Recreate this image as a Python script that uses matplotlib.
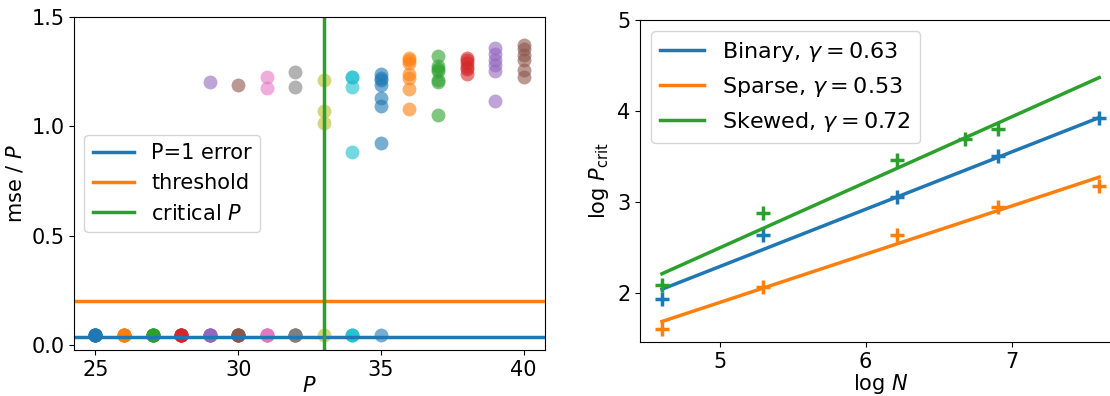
import numpy as np
import matplotlib
matplotlib.use('Agg')
import matplotlib.pyplot as plt

plt.rcParams['font.size'] = 15

# left panel: mse / P for each trial at each P
P_values = [25, 26, 27, 28, 29, 30, 31, 32, 33, 34, 35, 36, 37, 38, 39, 40]
mse_trials = [
    [0.047] * 8,
    [0.047] * 8,
    [0.047] * 8,
    [0.047] * 8,
    [1.20] + [0.047] * 7,
    [1.19] + [0.047] * 7,
    [1.226, 1.173] + [0.047] * 6,
    [1.245, 1.18] + [0.047] * 6,
    [1.21, 1.07, 1.013, 0.047],
    [1.226, 1.226, 1.178, 0.883] + [0.047] * 3,
    [1.24, 1.22, 1.21, 1.19, 1.127, 1.092, 0.925, 0.047],
    [1.31, 1.30, 1.29, 1.24, 1.22, 1.17, 1.077],
    [1.32, 1.275, 1.26, 1.25, 1.21, 1.20, 1.05],
    [1.31, 1.30, 1.29, 1.27, 1.26, 1.24],
    [1.356, 1.33, 1.30, 1.28, 1.25, 1.115],
    [1.37, 1.35, 1.325, 1.30, 1.257, 1.226],
]
p1_error = 0.035
threshold = 0.2
critical_P = 33

# right panel: log P_crit vs log N
N_binary = [100, 200, 500, 1000, 2000]
logPc_binary = [1.93, 2.64, 3.05, 3.50, 3.92]
N_sparse = [100, 200, 500, 1000, 2000]
logPc_sparse = [1.60, 2.07, 2.64, 2.94, 3.18]
N_skewed = [100, 200, 500, 800, 1000]
logPc_skewed = [2.09, 2.88, 3.46, 3.69, 3.80]
gammas = [0.63, 0.53, 0.72]
fit_at_start = [2.04, 1.685, 2.21]
names = ['Binary', 'Sparse', 'Skewed']

fig = plt.figure(figsize=(11.1, 3.96), dpi=100)
ax1 = fig.add_axes([0.0667, 0.1162, 0.4243, 0.8417])
ax2 = fig.add_axes([0.5766, 0.1364, 0.4333, 0.8131])

for i, (p, trials) in enumerate(zip(P_values, mse_trials)):
    ax1.scatter([p] * len(trials), trials, s=100, alpha=0.6,
                color='C%d' % (i % 10), linewidths=0)
ax1.axhline(p1_error, color='C0', lw=2.5, label='P=1 error')
ax1.axhline(threshold, color='C1', lw=2.5, label='threshold')
ax1.axvline(critical_P, color='C2', lw=2.5, label='critical $P$')
ax1.set_xlim(24.25, 40.75)
ax1.set_ylim(-0.023, 1.5)
ax1.set_xticks([25, 30, 35, 40])
ax1.set_yticks([0.0, 0.5, 1.0, 1.5])
ax1.set_xlabel('$P$', labelpad=-3)
ax1.set_ylabel('mse / $P$')
ax1.legend(loc='center left')

data = [(N_binary, logPc_binary), (N_sparse, logPc_sparse), (N_skewed, logPc_skewed)]
for i, (N, lp) in enumerate(data):
    logN = np.log(N)
    x0 = np.log(N_binary[0])
    x1 = np.log(N_binary[-1])
    ax2.plot([x0, x1], [fit_at_start[i], fit_at_start[i] + gammas[i] * (x1 - x0)],
             color='C%d' % i, lw=2.5,
             label=r'%s, $\gamma = %.2f$' % (names[i], gammas[i]))
    ax2.plot(logN, lp, '+', color='C%d' % i, ms=10, mew=2.5)
ax2.set_xlim(4.455, 7.75)
ax2.set_ylim(1.46, 5)
ax2.set_xticks([5, 6, 7])
ax2.set_yticks([2, 3, 4, 5])
ax2.set_xlabel('log $N$', labelpad=0)
ax2.set_ylabel(r'log $P_{\rm crit}$')
ax2.legend(loc='upper left', fontsize=16)

fig.savefig('out.png', dpi=100)
